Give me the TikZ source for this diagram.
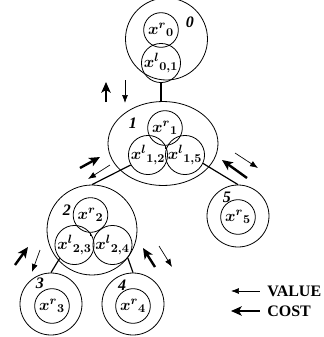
\documentclass[tikz,border=0pt]{standalone}
\usepackage{amsmath}
\usepackage{fontspec}
\setmainfont{Liberation Serif}
\usepackage{bm}
\usepackage{tikz}
\usetikzlibrary{arrows.meta, calc, shapes.geometric}
\newcommand{\xvar}[2]{$\bm{{x^{#1}}_{#2}}$}

\begin{document}
\begin{tikzpicture}[x=0.75pt, y=-0.75pt,
    outer/.style={draw, circle, inner sep=0pt, line width=0.6pt},
    inner/.style={draw, circle, minimum size=26pt, inner sep=0pt, line width=0.6pt, font=\fontsize{12.5}{15}\selectfont},
    num/.style={font=\large\bfseries\itshape, inner sep=0pt},
    link/.style={line width=0.9pt},
    valuearrow/.style={-{Latex[length=6pt,width=4.5pt]}, line width=0.5pt},
    costarrow/.style={-{Stealth[length=8pt,width=7pt,inset=2pt]}, line width=1.8pt}]
    \useasboundingbox (0,0) rectangle (324,337);

    % Node 0
    \node[outer, minimum size=61.5pt] (n0) at (166.5,39) {};
    \node[inner] (r0) at (161,30) {\xvar{r}{0}};
    \node[inner] (l01) at (161,63) {\xvar{l}{0{,}1}};
    \node[num] (t0) at (190,22) {0};

    % Node 1
    \node[draw, ellipse, minimum width=82.5pt, minimum height=63pt, inner sep=0pt, line width=0.6pt] (n1) at (163,143.5) {};
    \node[inner] (r1) at (165,128) {\xvar{r}{1}};
    \node[inner] (l12) at (148,155) {\xvar{l}{1{,}2}};
    \node[inner] (l15) at (185,155) {\xvar{l}{1{,}5}};
    \node[num] (t1) at (133,123) {1};

    % Node 2
    \node[outer, minimum size=67.5pt] (n2) at (92,230) {};
    \node[inner] (r2) at (90.5,215) {\xvar{r}{2}};
    \node[inner] (l23) at (74.5,245) {\xvar{l}{2{,}3}};
    \node[inner] (l24) at (112.5,245) {\xvar{l}{2{,}4}};
    \node[num] (t2) at (67,210) {2};

    % Leaves
    \node[outer, minimum size=46.5pt] (n3) at (51,304) {};
    \node[inner] (r3) at (52,306) {\xvar{r}{3}};
    \node[num] (t3) at (40,283) {3};
    \node[outer, minimum size=46.5pt] (n4) at (133,304) {};
    \node[inner] (r4) at (133,306) {\xvar{r}{4}};
    \node[num] (t4) at (122,285) {4};
    \node[outer, minimum size=46.5pt] (n5) at (238,216) {};
    \node[inner] (r5) at (238,217) {\xvar{r}{5}};
    \node[num] (t5) at (227,197) {5};

    % Tree edges
    \draw[link] (l01.south) -- (l01.south |- n1.north);
    \draw[link] (l12.210) -- (n2.north);
    \draw[link] (l15.335) -- (n5.north);
    \draw[link] (l23.222) -- (n3.north);
    \draw[link] (l24.320) -- (n4.north);
    \coordinate (k1) at ($(r1.south)+(0,3)$);
    \coordinate (k2) at ($(r2.south)+(0,3)$);
    \draw[line width=0.6pt] (r1.south) -- (k1);
    \draw[line width=0.6pt] (r2.south) -- (k2);

    % Cost and value messages
    \coordinate (c01a) at (106,102); \coordinate (c01b) at (106,82);
    \coordinate (v01a) at (125,80);  \coordinate (v01b) at (125,103);
    \coordinate (c12a) at (80,168);  \coordinate (c12b) at (100,157);
    \coordinate (v12a) at (110,165); \coordinate (v12b) at (88,179);
    \coordinate (c15a) at (247,178); \coordinate (c15b) at (222,160);
    \coordinate (v15a) at (235,153); \coordinate (v15b) at (258,168);
    \coordinate (c23a) at (15,265);  \coordinate (c23b) at (28,247);
    \coordinate (v23a) at (40,250);  \coordinate (v23b) at (32,272);
    \coordinate (c24a) at (155,267); \coordinate (c24b) at (143,248);
    \coordinate (v24a) at (159,246); \coordinate (v24b) at (172,267);
    \draw[costarrow] (c01a) -- (c01b);
    \draw[valuearrow] (v01a) -- (v01b);
    \draw[costarrow] (c12a) -- (c12b);
    \draw[valuearrow] (v12a) -- (v12b);
    \draw[costarrow] (c15a) -- (c15b);
    \draw[valuearrow] (v15a) -- (v15b);
    \draw[costarrow] (c23a) -- (c23b);
    \draw[valuearrow] (v23a) -- (v23b);
    \draw[costarrow] (c24a) -- (c24b);
    \draw[valuearrow] (v24a) -- (v24b);

    % Legend
    \node[anchor=west, inner sep=0pt, font=\large\bfseries] (value) at (267,291) {VALUE};
    \node[anchor=west, inner sep=0pt, font=\large\bfseries] (cost) at (267,311) {COST};
    \coordinate (vhead) at (231,291);
    \coordinate (chead) at (231,311);
    \draw[valuearrow] ($(value.west)+(-7,0)$) -- (vhead);
    \draw[costarrow] ($(cost.west)+(-7,0)$) -- (chead);
\end{tikzpicture}
\end{document}
